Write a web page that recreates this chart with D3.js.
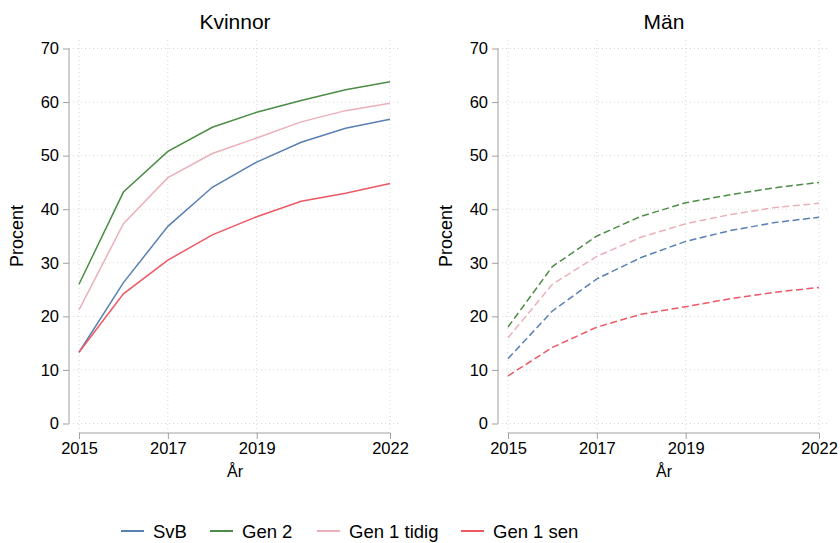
<!DOCTYPE html>
<html>
<head>
<meta charset="utf-8">
<script src="https://cdn.jsdelivr.net/npm/d3@7"></script>
<style>
  body { margin: 0; background: #fff; }
  svg { font-family: "Liberation Sans", Arial, Helvetica, sans-serif; }
</style>
</head>
<body>
<svg id="chart"></svg>
<script>
const width = 840;
const height = 543;

const years = [2015, 2016, 2017, 2018, 2019, 2020, 2021, 2022];
const xTicks = [2015, 2017, 2019, 2022];
const yTicks = [0, 10, 20, 30, 40, 50, 60, 70];
const seriesNames = ["SvB", "Gen 2", "Gen 1 tidig", "Gen 1 sen"];
const colors = ["#5a7fb3", "#4d8c46", "#ebb0b9", "#ee5864"];

// Kvinnor
const kvSvB   = [13.3, 26.3, 36.8, 44.1, 48.8, 52.5, 55.1, 56.8];
const kvGen2  = [26.0, 43.2, 50.8, 55.3, 58.1, 60.3, 62.3, 63.8];
const kvTidig = [21.2, 37.3, 45.9, 50.4, 53.3, 56.3, 58.4, 59.8];
const kvSen   = [13.3, 24.2, 30.5, 35.2, 38.6, 41.5, 43.0, 44.8];

// Män
const maSvB   = [12.1, 21.0, 27.0, 31.0, 34.0, 36.0, 37.5, 38.5];
const maGen2  = [18.0, 29.3, 35.0, 38.7, 41.2, 42.7, 44.0, 45.0];
const maTidig = [16.0, 26.0, 31.2, 34.8, 37.3, 39.0, 40.3, 41.1];
const maSen   = [8.9, 14.2, 18.0, 20.4, 21.8, 23.3, 24.5, 25.4];

const panels = [
  { title: "Kvinnor", left: 69, series: [kvSvB, kvGen2, kvTidig, kvSen], dash: null },
  { title: "Män", left: 498, series: [maSvB, maGen2, maTidig, maSen], dash: "7,3.5" }
];

const svg = d3.select("#chart").attr("width", width).attr("height", height);

const y = d3.scaleLinear().domain([0, 70]).range([423.5, 48.5]);

panels.forEach(p => {
  const x = d3.scaleLinear().domain([2015, 2022]).range([p.left + 10, p.left + 321]);
  const g = svg.append("g");

  // grid
  g.selectAll(".hg").data(yTicks).enter().append("line")
    .attr("x1", p.left).attr("x2", p.left + 332)
    .attr("y1", d => y(d)).attr("y2", d => y(d))
    .attr("stroke", "#d6d6d6").attr("stroke-dasharray", "1,3");
  g.selectAll(".vg").data(xTicks).enter().append("line")
    .attr("x1", d => x(d)).attr("x2", d => x(d))
    .attr("y1", 40).attr("y2", 433)
    .attr("stroke", "#d6d6d6").attr("stroke-dasharray", "1,3");

  // y axis
  const ya = g.append("g").attr("transform", `translate(${p.left},0)`)
    .call(d3.axisLeft(y).tickValues(yTicks).tickSize(6).tickPadding(4));
  ya.selectAll("path, line").attr("stroke", "#a0a0a0");
  ya.select(".domain").attr("d", `M-0,${y(70)}V${y(0)}`);
  ya.selectAll("text").attr("font-size", 16.5).attr("fill", "#000").attr("font-family", null);

  // x axis
  const xa = g.append("g").attr("transform", "translate(0,433)")
    .call(d3.axisBottom(x).tickValues(xTicks).tickFormat(d3.format("d")).tickSize(6).tickPadding(3));
  xa.selectAll("path, line").attr("stroke", "#a0a0a0");
  xa.select(".domain").attr("d", `M${x(2015)},0H${x(2022)}`);
  xa.selectAll("text").attr("font-size", 16.5).attr("fill", "#000").attr("font-family", null);

  // titles
  g.append("text").attr("x", p.left + 166).attr("y", 29)
    .attr("text-anchor", "middle").attr("font-size", 21).attr("fill", "#000").text(p.title);
  g.append("text").attr("x", p.left + 166).attr("y", 477)
    .attr("text-anchor", "middle").attr("font-size", 16).attr("fill", "#000").text("År");
  g.append("text")
    .attr("transform", `translate(${p.left - 46},${y(35)}) rotate(-90)`)
    .attr("text-anchor", "middle").attr("font-size", 18).attr("fill", "#000").text("Procent");

  // lines
  const line = d3.line().x((d, i) => x(years[i])).y(d => y(d));
  p.series.forEach((s, i) => {
    g.append("path").datum(s)
      .attr("d", line)
      .attr("fill", "none")
      .attr("stroke", colors[i])
      .attr("stroke-width", 1.5)
      .attr("stroke-dasharray", p.dash);
  });
});

// legend
const legendX = [121, 210, 317, 461];
const leg = svg.append("g").attr("transform", "translate(0,531)");
seriesNames.forEach((n, i) => {
  leg.append("line").attr("x1", legendX[i]).attr("x2", legendX[i] + 23)
    .attr("y1", 0).attr("y2", 0).attr("stroke", colors[i]).attr("stroke-width", 2);
  leg.append("text").attr("x", legendX[i] + 32).attr("y", 7)
    .attr("font-size", 18.5).attr("fill", "#000").text(n);
});
</script>
</body>
</html>
